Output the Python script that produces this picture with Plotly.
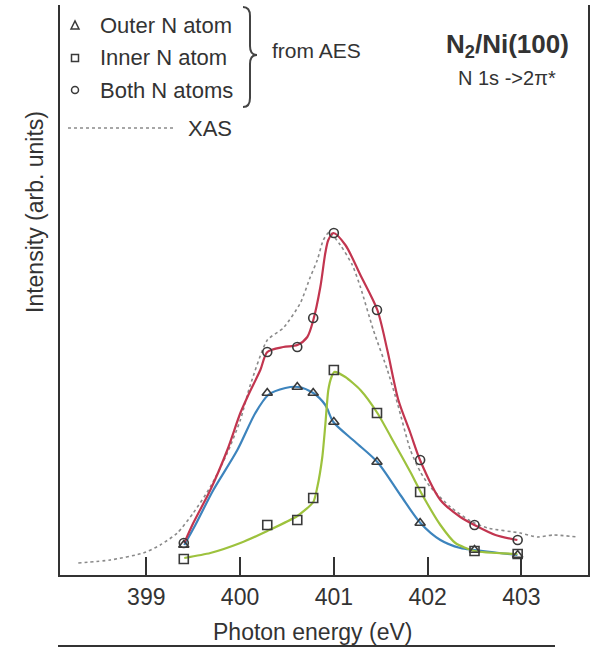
import plotly.graph_objects as go

# ---------------- data ----------------
energy_pts = [399.40, 400.29, 400.61, 400.78, 401.00, 401.46, 401.92, 402.50, 402.96]
outer_pts = [0.30, 1.82, 1.88, 1.82, 1.53, 1.13, 0.52, 0.25, 0.20]
inner_pts = [0.16, 0.50, 0.55, 0.77, 2.05, 1.62, 0.83, 0.24, 0.21]
both_pts = [0.32, 2.23, 2.28, 2.57, 3.42, 2.65, 1.15, 0.50, 0.35]

both_fit_x = [399.405, 399.501, 399.683, 399.864, 400.003, 400.088, 400.216, 400.291,
              400.461, 400.611, 400.717, 400.781, 400.856, 400.909, 400.941, 400.995,
              401.123, 401.283, 401.464, 401.570, 401.688, 401.816, 401.923, 402.136,
              402.349, 402.499, 402.723, 402.957]
both_fit_y = [0.32, 0.52, 0.85, 1.25, 1.62, 1.80, 2.05, 2.23,
              2.28, 2.30, 2.38, 2.55, 2.88, 3.22, 3.35, 3.42,
              3.30, 3.00, 2.65, 2.25, 1.75, 1.42, 1.14, 0.75,
              0.58, 0.50, 0.40, 0.35]

outer_fit_x = [399.405, 399.523, 399.715, 399.971, 400.163, 400.301, 400.483, 400.621,
               400.781, 400.909, 400.995, 401.229, 401.464, 401.709, 401.923, 402.136,
               402.349, 402.499, 402.957]
outer_fit_y = [0.30, 0.50, 0.85, 1.25, 1.62, 1.80, 1.87, 1.88,
               1.82, 1.70, 1.53, 1.33, 1.13, 0.80, 0.52, 0.35,
               0.27, 0.25, 0.20]

inner_fit_x = [399.405, 399.683, 400.003, 400.291, 400.611, 400.781, 400.824, 400.877,
               400.909, 400.941, 400.975, 401.005, 401.123, 401.283, 401.464, 401.656,
               401.816, 401.944, 402.136, 402.296, 402.499, 402.957]
inner_fit_y = [0.17, 0.22, 0.32, 0.44, 0.59, 0.73, 0.88, 1.18,
               1.50, 1.85, 1.98, 2.03, 1.98, 1.85, 1.62, 1.30,
               1.03, 0.80, 0.50, 0.32, 0.24, 0.21]

xas_x = [398.275, 398.616, 398.968, 399.149, 399.331, 399.501, 399.683, 399.864,
         400.003, 400.109, 400.291, 400.461, 400.643, 400.749, 400.824, 400.888,
         400.952, 401.069, 401.197, 401.283, 401.421, 401.571, 401.677, 401.816,
         401.923, 402.029, 402.243, 402.456, 402.637, 402.989, 403.171, 403.341,
         403.597]
xas_y = [0.12, 0.15, 0.22, 0.30, 0.42, 0.62, 0.88, 1.22,
         1.55, 1.90, 2.35, 2.47, 2.72, 2.98, 3.15, 3.35,
         3.43, 3.30, 3.10, 2.88, 2.45, 2.05, 1.72, 1.25,
         1.03, 0.88, 0.68, 0.54, 0.47, 0.42, 0.38, 0.40,
         0.38]

tick_vals = [399, 400, 401, 402, 403]
tick_text = ["399", "400", "401", "402", "403"]

# ---------------- styling ----------------
W, H = 596, 648
ML, MR, MT, MB = 60, 8, 5, 73
FONT = "Liberation Sans, Arial, Helvetica, sans-serif"
TXT = "#333333"
RED, BLUE, GREEN, GREY = "#c2354f", "#3d84bd", "#9dc23d", "#8a8a8a"
MK = "#3a3a3a"


def px(x):
    return (x - ML) / (W - ML - MR)


def py(y):
    return (H - MB - y) / (H - MB - MT)


fig = go.Figure()

fig.add_trace(go.Scatter(x=xas_x, y=xas_y, mode="lines", line=dict(color=GREY, width=1.6, dash="dot", shape="spline", smoothing=0.6), showlegend=False))
fig.add_trace(go.Scatter(x=outer_fit_x, y=outer_fit_y, mode="lines", line=dict(color=BLUE, width=2.2, shape="spline", smoothing=0.8), showlegend=False))
fig.add_trace(go.Scatter(x=inner_fit_x, y=inner_fit_y, mode="lines", line=dict(color=GREEN, width=2.2, shape="spline", smoothing=0.6), showlegend=False))
fig.add_trace(go.Scatter(x=both_fit_x, y=both_fit_y, mode="lines", line=dict(color=RED, width=2.2, shape="spline", smoothing=0.8), showlegend=False))

for vals, sym in [(outer_pts, "triangle-up-open"), (inner_pts, "square-open"), (both_pts, "circle-open")]:
    fig.add_trace(go.Scatter(x=energy_pts, y=vals, mode="markers",
                             marker=dict(symbol=sym, size=9, color=MK, line=dict(width=1.6, color=MK)),
                             showlegend=False))

ann = []


def text(x, y, s, size, xanchor="left", **kw):
    ann.append(dict(x=px(x), y=py(y), xref="paper", yref="paper", text=s, showarrow=False,
                    xanchor=xanchor, yanchor="middle", font=dict(family=FONT, size=size, color=TXT), **kw))


# legend texts
text(98, 25, "Outer N atom", 22)
text(98, 58, "Inner N atom", 22)
text(98, 90, "Both N atoms", 22)
text(186, 128, "XAS", 22)
text(270, 50, "from AES", 21)
# title block
text(507, 45, "<b>N<sub>2</sub>/Ni(100)</b>", 26, xanchor="center")
text(507, 78, "N 1s ->2π*", 20, xanchor="center")
# axis titles
text(312, 632, "Photon energy (eV)", 23, xanchor="center")
ann.append(dict(x=px(35), y=py(212), xref="paper", yref="paper", text="Intensity (arb. units)",
                showarrow=False, textangle=-90, xanchor="center", yanchor="middle",
                font=dict(family=FONT, size=23, color=TXT)))

shapes = []


def mkpath(points):
    out = []
    for c, a, b in points:
        s = f"{px(a):.5f},{py(b):.5f}"
        out.append(f"{c} {s}" if c else s)
    return " ".join(out)


# legend symbols
shapes.append(dict(type="path", xref="paper", yref="paper",
                   path=mkpath([("M", 71, 29), ("L", 75, 21), ("L", 79, 29)]) + " Z",
                   line=dict(color=MK, width=1.5)))
shapes.append(dict(type="rect", xref="paper", yref="paper", x0=px(71.5), x1=px(78.5), y0=py(61.5), y1=py(54.5),
                   line=dict(color=MK, width=1.5)))
shapes.append(dict(type="circle", xref="paper", yref="paper", x0=px(71.5), x1=px(78.5), y0=py(93.5), y1=py(86.5),
                   line=dict(color=MK, width=1.5)))
# XAS legend sample line
shapes.append(dict(type="line", xref="paper", yref="paper", x0=px(68), x1=px(176), y0=py(128), y1=py(128),
                   line=dict(color=GREY, width=1.6, dash="dot")))
# brace
brace = [("M", 243, 7), ("Q", 250, 7), ("", 250, 16), ("L", 250, 46), ("Q", 250, 55), ("", 257, 55),
         ("Q", 250, 55), ("", 250, 64), ("L", 250, 98), ("Q", 250, 107), ("", 243, 107)]
shapes.append(dict(type="path", xref="paper", yref="paper", path=mkpath(brace), line=dict(color="#444", width=2)))
# bottom rule
shapes.append(dict(type="line", xref="paper", yref="paper", x0=px(58), x1=px(555), y0=py(646), y1=py(646),
                   line=dict(color="#333", width=2)))

fig.update_layout(
    width=W, height=H,
    margin=dict(l=ML, r=MR, t=MT, b=MB),
    paper_bgcolor="white", plot_bgcolor="white",
    annotations=ann, shapes=shapes,
    xaxis=dict(range=[398.08, 403.71], tickvals=tick_vals, ticktext=tick_text, ticks="inside",
               ticklen=18, tickwidth=2, tickcolor="#333", showline=True, linewidth=2, linecolor="#333",
               showgrid=False, zeroline=False, tickfont=dict(family=FONT, size=23, color=TXT)),
    yaxis=dict(range=[0, 5.70], showticklabels=False, ticks="", showline=True, linewidth=2,
               linecolor="#333", mirror=True, showgrid=False, zeroline=False),
)

fig.write_html("out.html")
